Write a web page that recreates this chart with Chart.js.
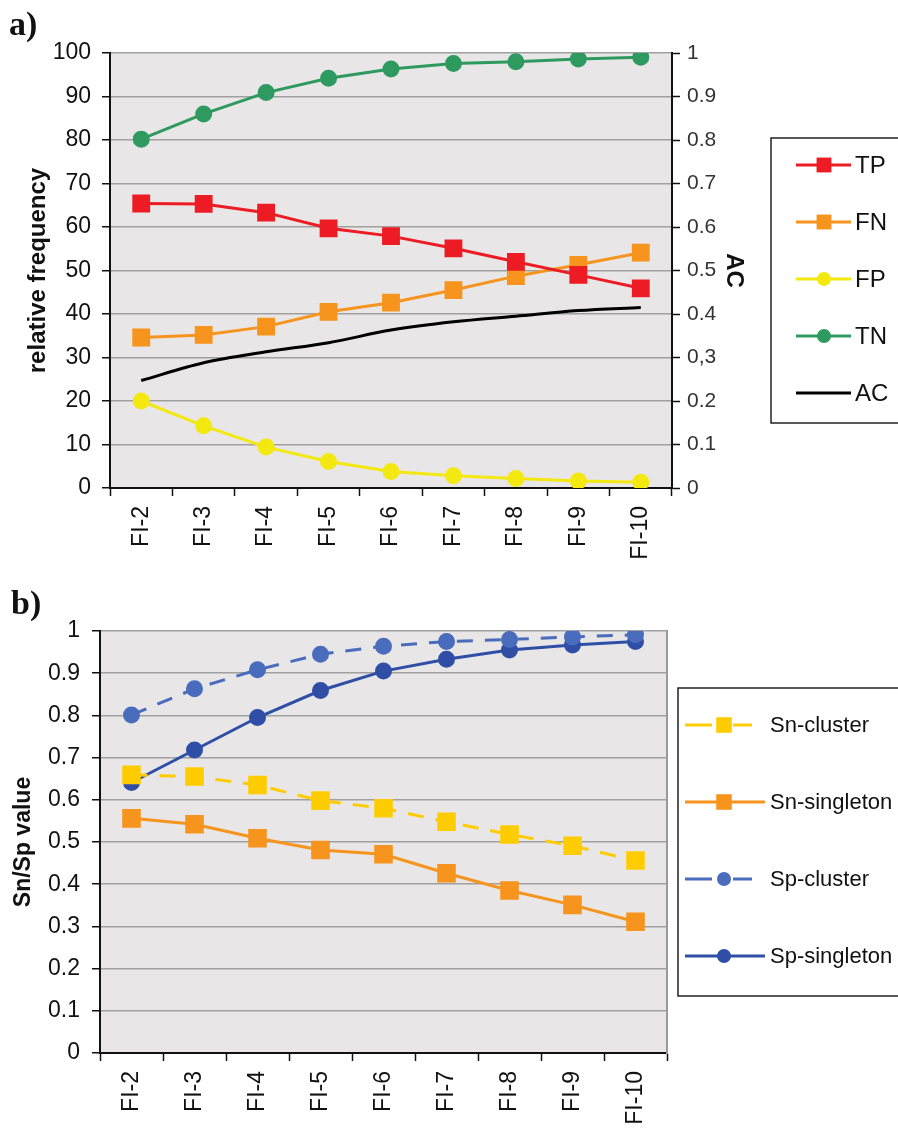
<!DOCTYPE html>
<html>
<head>
<meta charset="utf-8">
<script src="https://cdn.jsdelivr.net/npm/chart.js@4.4.0/dist/chart.umd.min.js"></script>
<style>
  body { margin: 0; background: #fff; }
  .wrap { position: relative; width: 898px; height: 1129px; }
  .panel { position: absolute; left: 0; }
  .tag { position: absolute; font: bold 34px 'Liberation Serif', 'Times New Roman', serif; color: #111; }
</style>
</head>
<body>
<div class="wrap">
  <canvas id="chartA" class="panel" style="top:0" width="898" height="580"></canvas>
  <canvas id="chartB" class="panel" style="top:580px" width="898" height="549"></canvas>
  <div class="tag" style="left:9px;top:5px">a)</div>
  <div class="tag" style="left:11px;top:584px">b)</div>
</div>
<script>
const categories = ['FI-2', 'FI-3', 'FI-4', 'FI-5', 'FI-6', 'FI-7', 'FI-8', 'FI-9', 'FI-10'];

// panel a - relative frequency (left axis) and AC (right axis)
const tp = [65.4, 65.3, 63.3, 59.7, 57.9, 55.1, 52.0, 49.0, 45.9];
const fn = [34.6, 35.2, 37.1, 40.5, 42.6, 45.5, 48.7, 51.3, 54.1];
const fp = [20.0, 14.3, 9.4, 6.1, 3.8, 2.8, 2.2, 1.6, 1.3];
const tn = [80.2, 86.0, 90.9, 94.2, 96.3, 97.6, 98.0, 98.6, 99.0];
const ac = [0.247, 0.288, 0.313, 0.334, 0.363, 0.382, 0.395, 0.408, 0.415];
const acTickLabels = ['0', '0.1', '0.2', '0,3', '0.4', '0.5', '0.6', '0.7', '0.8', '0.9', '1'];

// panel b - Sn/Sp values
const snCluster = [0.659, 0.655, 0.635, 0.598, 0.580, 0.548, 0.518, 0.491, 0.456];
const snSingleton = [0.556, 0.542, 0.509, 0.481, 0.471, 0.426, 0.385, 0.351, 0.311];
const spCluster = [0.801, 0.863, 0.908, 0.945, 0.964, 0.975, 0.980, 0.986, 0.991];
const spSingleton = [0.641, 0.718, 0.795, 0.859, 0.905, 0.933, 0.955, 0.967, 0.975];
const snspTickLabels = ['0', '0.1', '0.2', '0.3', '0.4', '0.5', '0.6', '0.7', '0.8', '0.9', '1'];

Chart.defaults.font.family = "'Liberation Sans', Arial, sans-serif";
Chart.defaults.color = '#111';

// grey plot background
const plotBg = {
  id: 'plotBg',
  beforeDraw(chart) {
    const a = chart.chartArea;
    const ctx = chart.ctx;
    ctx.save();
    ctx.fillStyle = '#e8e6e6';
    ctx.fillRect(a.left, a.top, a.right - a.left, a.bottom - a.top);
    ctx.restore();
  }
};

// boxed legend like the excel one
const legendBox = {
  id: 'legendBox',
  afterDraw(chart, args, o) {
    const ctx = chart.ctx;
    ctx.save();
    ctx.strokeStyle = '#222';
    ctx.lineWidth = 1.5;
    ctx.strokeRect(o.x, o.y, o.w, o.h);
    ctx.font = o.font;
    ctx.textBaseline = 'middle';
    chart.data.datasets.forEach((ds, i) => {
      const y = o.y0 + i * o.gap;
      const x2 = ds.borderDash ? o.x2Dash : o.x2;
      ctx.strokeStyle = ds.borderColor;
      ctx.lineWidth = ds.borderWidth;
      ctx.beginPath();
      if (ds.borderDash) {
        ctx.moveTo(o.x1, y); ctx.lineTo(o.mx - 12, y);
        ctx.moveTo(o.mx + 9, y); ctx.lineTo(x2, y);
      } else {
        ctx.moveTo(o.x1, y); ctx.lineTo(x2, y);
      }
      ctx.stroke();
      ctx.fillStyle = ds.pointBackgroundColor || ds.borderColor;
      if (ds.pointRadius > 0) {
        if (ds.pointStyle === 'rect') {
          const s = ds.pointRadius * Math.SQRT2;
          ctx.fillRect(o.mx - s / 2, y - s / 2, s, s);
        } else {
          ctx.beginPath();
          ctx.arc(o.mx, y, ds.pointRadius, 0, Math.PI * 2);
          ctx.fill();
        }
      }
      ctx.fillStyle = '#111';
      ctx.fillText(ds.label, o.tx, y + 1);
    });
    ctx.restore();
  }
};

function xScale(h) {
  return {
    offset: true,
    grid: { offset: true, drawOnChartArea: false, tickColor: '#111', tickLength: 8, tickWidth: 1.5 },
    border: { color: '#111', width: 2 },
    ticks: { font: { size: 23 }, color: '#111', maxRotation: 90, minRotation: 90, padding: 10, autoSkip: false },
    afterFit(s) { s.height = h; }
  };
}

new Chart(document.getElementById('chartA'), {
  type: 'line',
  data: {
    labels: categories,
    datasets: [
      { label: 'TP', data: tp, borderColor: '#ed1c24', backgroundColor: '#ed1c24', borderWidth: 3, pointStyle: 'rect', pointRadius: 10.5, yAxisID: 'y' },
      { label: 'FN', data: fn, borderColor: '#f7941d', backgroundColor: '#f7941d', borderWidth: 3, pointStyle: 'rect', pointRadius: 10.5, yAxisID: 'y' },
      { label: 'FP', data: fp, borderColor: '#f4e811', backgroundColor: '#f4e811', borderWidth: 3, pointStyle: 'circle', pointRadius: 7, yAxisID: 'y' },
      { label: 'TN', data: tn, borderColor: '#2e9a60', backgroundColor: '#2e9a60', borderWidth: 3, pointStyle: 'circle', pointRadius: 7, yAxisID: 'y' },
      { label: 'AC', data: ac, borderColor: '#000', backgroundColor: '#000', borderWidth: 3, pointRadius: 0, cubicInterpolationMode: 'monotone', yAxisID: 'y1' }
    ]
  },
  options: {
    responsive: false,
    animation: false,
    layout: { padding: { top: 53, left: 20, right: 146, bottom: 0 } },
    plugins: {
      legend: { display: false },
      tooltip: { enabled: false },
      legendBox: { x: 771, y: 138, w: 140, h: 285, y0: 165, gap: 57, x1: 796, x2: 851, x2Dash: 851, mx: 824, tx: 855, font: "24px 'Liberation Sans', Arial" }
    },
    scales: {
      x: xScale(92),
      y: {
        min: 0, max: 100,
        ticks: { stepSize: 10, font: { size: 23 }, color: '#111', padding: 11 },
        grid: { color: '#a0a0a0', lineWidth: 1.5, tickColor: '#111', tickLength: 8, tickWidth: 1.5 },
        border: { color: '#111', width: 2 },
        title: { display: true, text: 'relative frequency', font: { size: 24, weight: 'bold' }, color: '#111' },
        afterFit(s) { s.width = 90; }
      },
      y1: {
        position: 'right',
        min: 0, max: 1,
        ticks: { stepSize: 0.1, font: { size: 21 }, color: '#333', padding: 7,
          callback: (v, i) => acTickLabels[i] },
        grid: { drawOnChartArea: false, tickColor: '#111', tickLength: 8, tickWidth: 1.5 },
        border: { color: '#111', width: 2 },
        title: { display: true, text: 'AC', font: { size: 24, weight: 'bold' }, color: '#111' },
        afterFit(s) { s.width = 80; }
      }
    }
  },
  plugins: [plotBg, legendBox]
});

new Chart(document.getElementById('chartB'), {
  type: 'line',
  data: {
    labels: categories,
    datasets: [
      { label: 'Sn-cluster', data: snCluster, borderColor: '#ffcc00', backgroundColor: '#ffcc00', borderWidth: 3, borderDash: [16, 12], pointStyle: 'rect', pointRadius: 11, yAxisID: 'y' },
      { label: 'Sn-singleton', data: snSingleton, borderColor: '#f7941d', backgroundColor: '#f7941d', borderWidth: 3, pointStyle: 'rect', pointRadius: 11, yAxisID: 'y' },
      { label: 'Sp-cluster', data: spCluster, borderColor: '#4a6cbd', backgroundColor: '#4a6cbd', borderWidth: 3, borderDash: [16, 12], pointStyle: 'circle', pointRadius: 7, yAxisID: 'y' },
      { label: 'Sp-singleton', data: spSingleton, borderColor: '#2f4ea6', backgroundColor: '#2f4ea6', borderWidth: 3, pointStyle: 'circle', pointRadius: 7, yAxisID: 'y' }
    ]
  },
  options: {
    responsive: false,
    animation: false,
    layout: { padding: { top: 51, left: 6, right: 231, bottom: 0 } },
    plugins: {
      legend: { display: false },
      tooltip: { enabled: false },
      legendBox: { x: 678, y: 108, w: 240, h: 308, y0: 145, gap: 77, x1: 685, x2: 765, x2Dash: 752, mx: 724, tx: 770, font: "22px 'Liberation Sans', Arial" }
    },
    scales: {
      x: xScale(76),
      y: {
        min: 0, max: 1,
        ticks: { stepSize: 0.1, font: { size: 23 }, color: '#111', padding: 12,
          callback: (v, i) => snspTickLabels[i] },
        grid: { color: '#a0a0a0', lineWidth: 1.5, tickColor: '#111', tickLength: 8, tickWidth: 1.5 },
        border: { color: '#111', width: 2 },
        title: { display: true, text: 'Sn/Sp value', font: { size: 23, weight: 'bold' }, color: '#111' },
        afterFit(s) { s.width = 94; }
      },
      y2: {
        position: 'right',
        min: 0, max: 1,
        ticks: { display: false },
        grid: { drawOnChartArea: false, drawTicks: false },
        border: { color: '#9a9a9a', width: 2 },
        afterFit(s) { s.width = 0; }
      }
    }
  },
  plugins: [plotBg, legendBox]
});
</script>
</body>
</html>
